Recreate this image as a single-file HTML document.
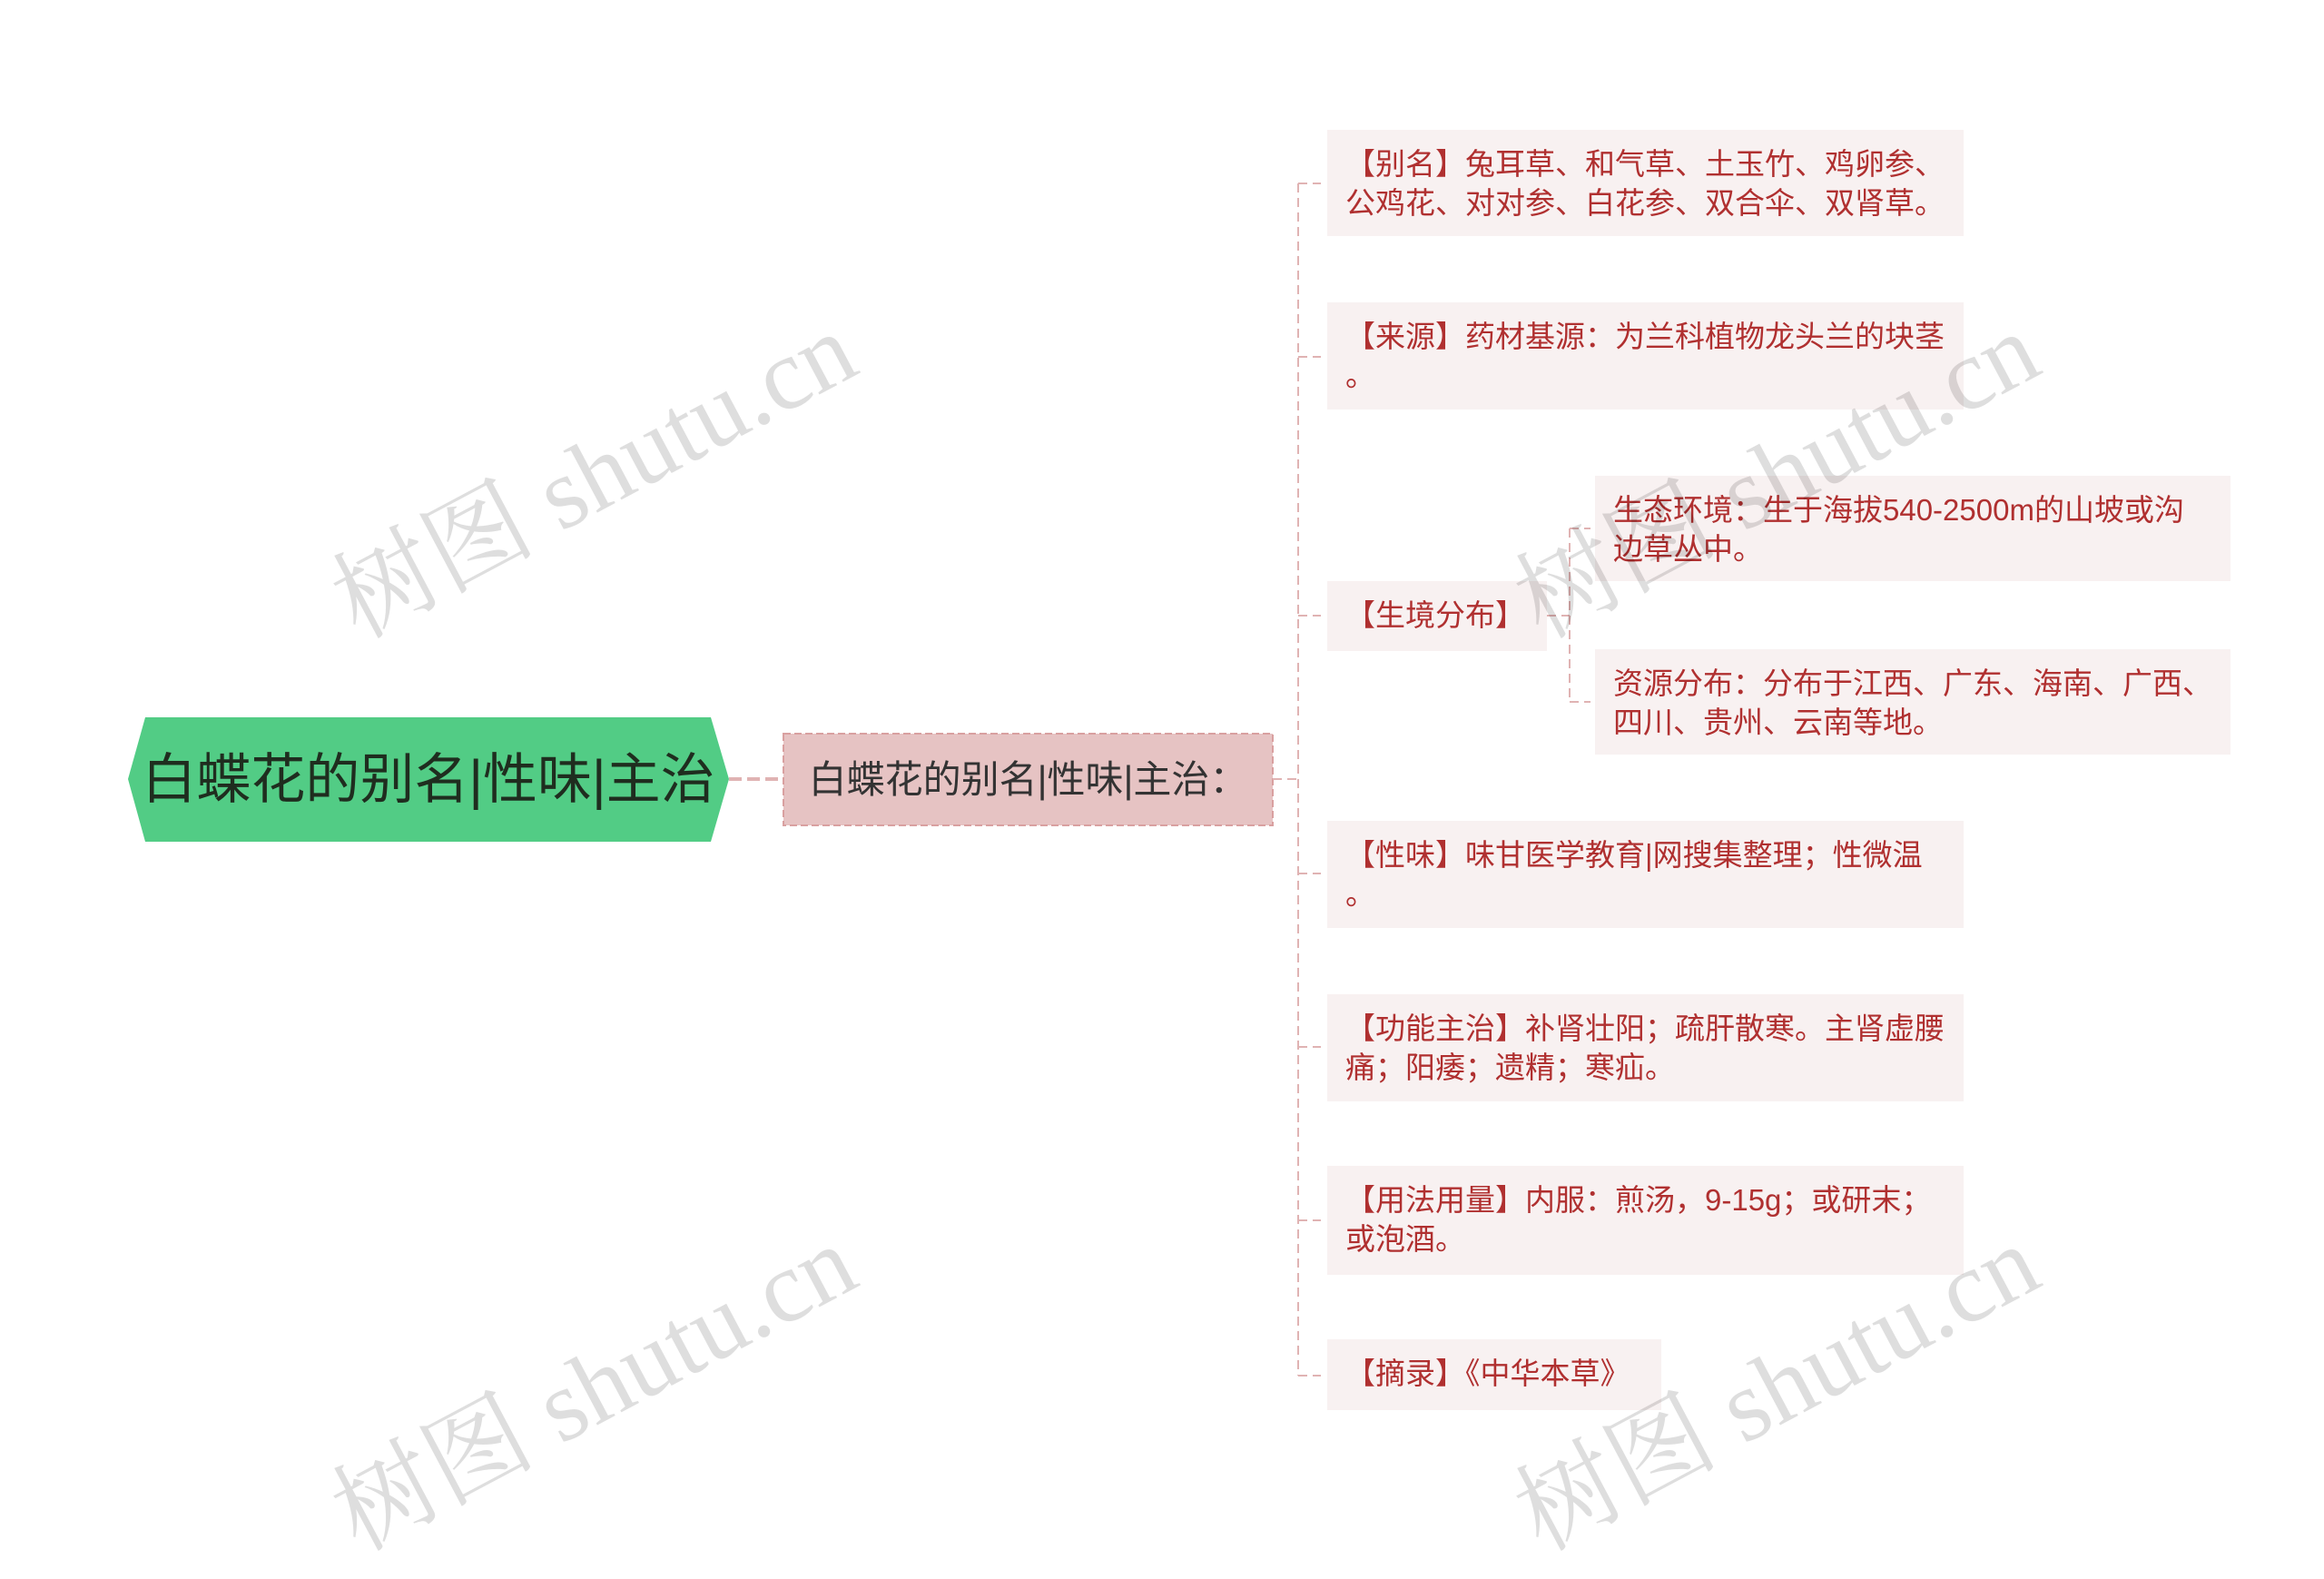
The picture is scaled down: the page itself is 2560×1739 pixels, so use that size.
<!DOCTYPE html>
<html><head><meta charset="utf-8"><style>
html,body{margin:0;padding:0;background:#fff;}
body{width:2560px;height:1668px;position:relative;overflow:hidden;font-family:"Liberation Sans","Noto Sans CJK SC",sans-serif;}
.box{position:absolute;background:#f8f1f1;color:#b03030;font-size:33px;line-height:43px;box-sizing:border-box;padding:16px 20px;line-break:anywhere;}
.wm{position:absolute;color:rgba(0,0,0,0.13);font-size:112px;font-family:"Liberation Serif","Noto Serif CJK SC",serif;white-space:nowrap;transform:translate(-50%,-50%) rotate(-28deg);}
</style></head><body>
<svg width="2560" height="1668" style="position:absolute;left:0;top:0">
<polygon points="160,790 783,790 803,858 783,927 160,927 141,858" fill="#52cc85"/>
<line x1="803" y1="858" x2="863" y2="858" stroke="#e0b3b3" stroke-width="4" stroke-dasharray="14,6"/>
<rect x="863" y="808" width="539" height="101" fill="#e6c3c3" stroke="#d9a0a0" stroke-width="2" stroke-dasharray="8,4"/>
<line x1="1402" y1="858" x2="1430" y2="858" stroke="#e0b3b3" stroke-width="2" stroke-dasharray="10,6"/>
<g stroke="#e0b3b3" stroke-width="2" stroke-dasharray="10,6" fill="none">
<line x1="1430" y1="202" x2="1430" y2="1515"/>
<line x1="1430" y1="202" x2="1455" y2="202"/>
<line x1="1430" y1="393" x2="1455" y2="393"/>
<line x1="1430" y1="678" x2="1455" y2="678"/>
<line x1="1430" y1="962" x2="1455" y2="962"/>
<line x1="1430" y1="1153" x2="1455" y2="1153"/>
<line x1="1430" y1="1344" x2="1455" y2="1344"/>
<line x1="1430" y1="1515" x2="1455" y2="1515"/>
<line x1="1704" y1="678" x2="1729" y2="678"/>
<line x1="1729" y1="582" x2="1729" y2="773"/>
<line x1="1729" y1="582" x2="1752" y2="582"/>
<line x1="1729" y1="773" x2="1752" y2="773"/>
</g>
</svg>
<div style="position:absolute;left:141px;top:790px;width:662px;height:137px;line-height:137px;text-align:center;font-size:60px;color:#1f2d1f;">白蝶花的别名|性味|主治</div>
<div style="position:absolute;left:863px;top:808px;width:539px;height:101px;line-height:101px;text-align:center;font-size:42px;color:#333;">白蝶花的别名|性味|主治：</div>
<div class="box" style="left:1462px;top:143px;width:701px;height:117px;">【别名】兔耳草、和气草、土玉竹、鸡卵参、公鸡花、对对参、白花参、双合伞、双肾草。</div>
<div class="box" style="left:1462px;top:333px;width:701px;height:118px;">【来源】药材基源：为兰科植物龙头兰的块茎。</div>
<div class="box" style="left:1462px;top:640px;width:242px;height:77px;">【生境分布】</div>
<div class="box" style="left:1757px;top:524px;width:700px;height:116px;">生态环境：生于海拔540-2500m的山坡或沟边草丛中。</div>
<div class="box" style="left:1757px;top:715px;width:700px;height:116px;">资源分布：分布于江西、广东、海南、广西、四川、贵州、云南等地。</div>
<div class="box" style="left:1462px;top:904px;width:701px;height:118px;">【性味】味甘医学教育|网搜集整理；性微温。</div>
<div class="box" style="left:1462px;top:1095px;width:701px;height:118px;">【功能主治】补肾壮阳；疏肝散寒。主肾虚腰痛；阳痿；遗精；寒疝。</div>
<div class="box" style="left:1462px;top:1284px;width:701px;height:120px;">【用法用量】内服：煎汤，9-15g；或研末；或泡酒。</div>
<div class="box" style="left:1462px;top:1475px;width:368px;height:78px;">【摘录】《中华本草》</div>
<div class="wm" style="left:650px;top:515px;">树图 shutu.cn</div>
<div class="wm" style="left:1953px;top:515px;">树图 shutu.cn</div>
<div class="wm" style="left:650px;top:1520px;">树图 shutu.cn</div>
<div class="wm" style="left:1953px;top:1520px;">树图 shutu.cn</div>
</body></html>
